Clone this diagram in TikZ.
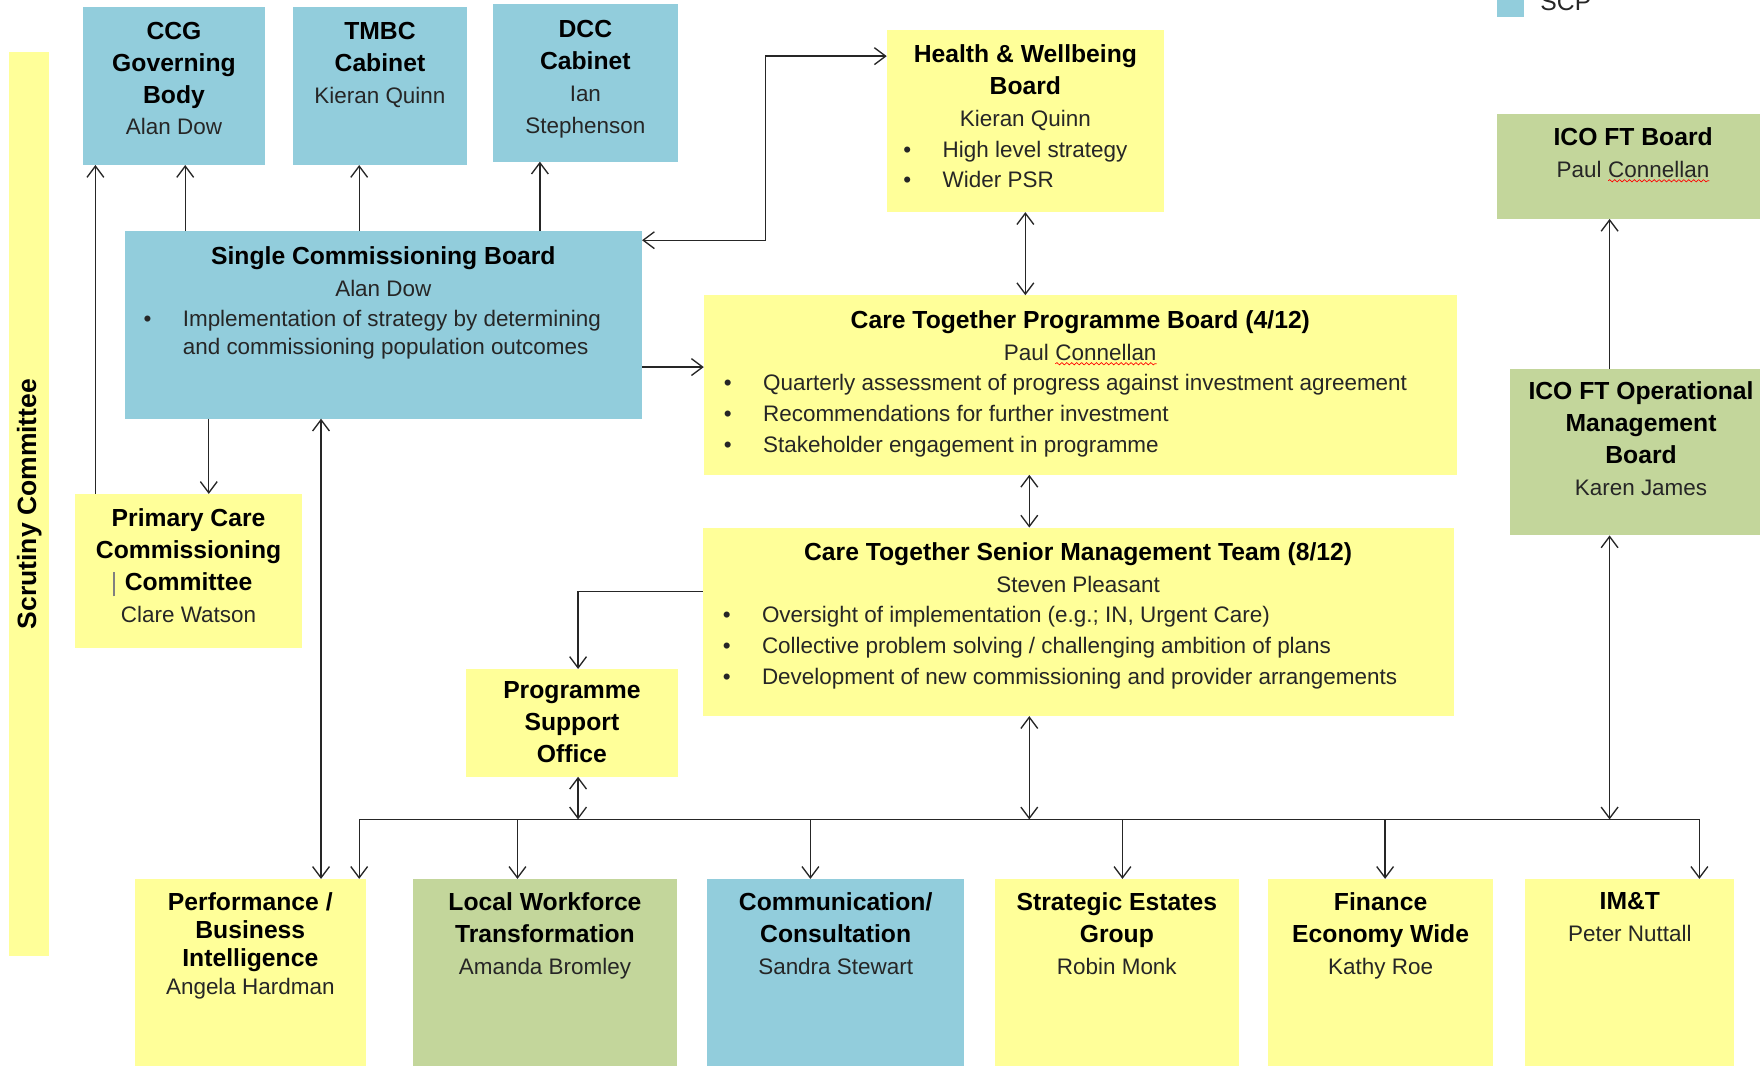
\documentclass[tikz,border=0pt]{standalone}
\usepackage{fontspec}
\setmainfont{Liberation Sans}
\usepackage{tikz}
\usetikzlibrary{arrows.meta}
\usetikzlibrary{positioning}
\usetikzlibrary{decorations.pathmorphing}
\definecolor{scpblue}{HTML}{92CDDC}
\definecolor{icogreen}{HTML}{C3D69B}
\definecolor{ctyellow}{HTML}{FFFF99}
\newcommand{\hd}[1]{{\fontsize{11}{14.25}\selectfont\bfseries\color{black}#1}}
\newcommand{\itm}[1]{\makebox[17.5pt][l]{\textbullet}#1}
\newcommand{\spell}[1]{\tikz[baseline=(sp.base)]{\node[inner sep=0pt, outer sep=0pt] (sp) {#1};
	\draw[red, line width=.3pt, decorate, decoration={snake, amplitude=.5pt, segment length=2.2pt}] ([yshift=-1.6pt]sp.base west) -- ([yshift=-1.6pt]sp.base east);}}
\tikzset{
	>={Straight Barb[length=5pt,width=7.5pt]},
	box/.style={rectangle, inner sep=0pt, outer sep=0pt, anchor=north west},
	wh/.style 2 args={minimum width=#1*.5pt, minimum height=#2*.5pt},
	scp/.style={box, fill=scpblue},
	ico/.style={box, fill=icogreen},
	ctp/.style={box, fill=ctyellow},
	txt/.style={inner sep=0pt, align=center, text=black!85, font=\fontsize{10}{14.25}\selectfont},
	blt/.style={inner sep=0pt, anchor=north west, align=left, text=black!85, font=\fontsize{10}{13.75}\selectfont},
	link/.style={draw, semithick, black!85},
}
\begin{document}
\begin{tikzpicture}[x=.5pt, y=-.5pt]
	\clip (0,0) rectangle (1568,949);
	% boxes
	\node[ctp, wh={36}{806}] (scr) at (8,46) {};
	\node[scp, wh={162}{141}] (ccg) at (74,6) {};
	\node[scp, wh={155}{141}] (tmbc) at (261,6) {};
	\node[scp, wh={165}{140}] (dcc) at (439,4) {};
	\node[ctp, wh={247}{162}] (hwb) at (790,27) {};
	\node[scp, wh={24}{25}] (key) at (1334,-10) {};
	\node[ico, wh={242}{93}] (icob) at (1334,102) {};
	\node[scp, wh={461}{167}] (scb) at (111,206) {};
	\node[ctp, wh={671}{160}] (ctpb) at (627,263) {};
	\node[ico, wh={234}{148}] (icoop) at (1345,329) {};
	\node[ctp, wh={202}{137}] (pcc) at (67,440) {};
	\node[ctp, wh={669}{168}] (smt) at (626,470) {};
	\node[ctp, wh={189}{96}] (pso) at (415,596) {};
	\node[ctp, wh={206}{180}] (perf) at (120,783) {};
	\node[ico, wh={235}{180}] (lwt) at (368,783) {};
	\node[scp, wh={229}{180}] (comm) at (630,783) {};
	\node[ctp, wh={218}{180}] (seg) at (886,783) {};
	\node[ctp, wh={200}{180}] (fin) at (1130,783) {};
	\node[ctp, wh={186}{180}] (imt) at (1359,783) {};

	% connectors
	\coordinate (bus) at (0,730);
	\foreach \b/\dx in {ccg/5pt, tmbc/-9.25pt, dcc/-20.25pt}
		\draw[link, ->] ([xshift=\dx]\b.south |- scb.north) -- ([xshift=\dx]\b.south);
	\draw[link, ->] ([xshift=9pt]pcc.north west) -- ([xshift=9pt]pcc.north west |- ccg.south);
	\draw[link, ->] ([xshift=9pt]pcc.north |- scb.south) -- ([xshift=9pt]pcc.north);
	\draw[link, <->] ([yshift=-4pt]scb.north east) -- ++(110,0) |- ([yshift=-11.5pt]hwb.north west);
	\draw[link, ->] ([yshift=-32pt]ctpb.north west -| scb.east) -- ([yshift=-32pt]ctpb.north west);
	\draw[link, <->] (hwb.south) -- (hwb.south |- ctpb.north);
	\draw[link, <->] ([xshift=-22.75pt]ctpb.south) -- ([xshift=-22.75pt]ctpb.south |- smt.north);
	\draw[link, ->] ([yshift=-28.5pt]smt.north west) -| ([xshift=2.75pt]pso.north);
	\draw[link, <->] ([xshift=2.75pt]pso.south) -- ([xshift=2.75pt]pso.south |- bus);
	\draw[link, <->] ([xshift=-21.75pt]smt.south) -- ([xshift=-21.75pt]smt.south |- bus);
	\draw[link, <->] ([xshift=-3pt]perf.north east) -- ([xshift=-3pt]perf.north east |- bus)
		-- ([xshift=-15.5pt]imt.north east |- bus) -- ([xshift=-15.5pt]imt.north east);
	\foreach \b/\dx in {lwt/-12.25pt, comm/-11.25pt, seg/2.5pt, fin/2pt}
		\draw[link, ->] ([xshift=\dx]\b.north |- bus) -- ([xshift=\dx]\b.north);
	\draw[link, <->] ([xshift=31.5pt]perf.north |- scb.south) -- ([xshift=31.5pt]perf.north);
	\draw[link, <->] ([xshift=-14pt]icoop.south) -- ([xshift=-14pt]icoop.south |- bus);
	\draw[link, ->] ([xshift=-14pt]icoop.north) -- ([xshift=-14pt]icoop.north |- icob.south);

	% texts
	\node[rotate=90, inner sep=0pt, font=\fontsize{11.8}{14}\selectfont\bfseries] (scr-t) at (scr.center) {Scrutiny Committee};
	\node[txt, below=6.5pt of ccg.north] (ccg-t) {\hd{CCG}\\\hd{Governing}\\\hd{Body}\\Alan Dow};
	\node[txt, below=6.5pt of tmbc.north] (tmbc-t) {\hd{TMBC}\\\hd{Cabinet}\\Kieran Quinn};
	\node[txt, below=7pt of dcc.north] (dcc-t) {\hd{DCC}\\\hd{Cabinet}\\Ian\\Stephenson};
	\node[txt, below=6pt of hwb.north] (hwb-t) {\hd{Health \& Wellbeing}\\\hd{Board}\\Kieran Quinn};
	\node[blt] (hwb-b) at ([xshift=7.25pt,yshift=-49pt]hwb.north west) {\itm{High level strategy}\\\itm{Wider PSR}};
	\node[anchor=base west, inner sep=0pt, text=black!85, font=\fontsize{11}{13}\selectfont] (key-t) at ([xshift=7pt,yshift=3pt]key.south east) {SCP};
	\node[txt, below=5.5pt of icob.north] (icob-t) {\hd{ICO FT Board}\\Paul \spell{Connellan}};
	\node[txt, below=6.5pt of scb.north] (scb-t) {\hd{Single Commissioning Board}\\Alan Dow};
	\node[blt] (scb-b) at ([xshift=8.25pt,yshift=-35pt]scb.north west) {\itm{Implementation of strategy by determining}\\[-1.5pt]\hspace*{17.5pt}and commissioning population outcomes};
	\node[txt, below=6.5pt of ctpb.north] (ctpb-t) {\hd{Care Together Programme Board (4/12)}\\Paul \spell{Connellan}};
	\node[blt] (ctpb-b) at ([xshift=8.75pt,yshift=-35pt]ctpb.north west) {\itm{Quarterly assessment of progress against investment agreement}\\\itm{Recommendations for further investment}\\\itm{Stakeholder engagement in programme}};
	\node[txt, below=5.5pt of icoop.north] (icoop-t) {\hd{ICO FT Operational}\\\hd{Management}\\\hd{Board}\\Karen James};
	\node[txt, below=6.5pt of pcc.north] (pcc-t) {\hd{Primary Care}\\\hd{Commissioning}\\\llap{\textcolor{gray}{\rule[-2.5pt]{.6pt}{11pt}}\hspace{4.5pt}}\hd{Committee}\\Clare Watson};
	\node[txt, below=6.5pt of smt.north] (smt-t) {\hd{Care Together Senior Management Team (8/12)}\\Steven Pleasant};
	\node[blt] (smt-b) at ([xshift=8.75pt,yshift=-35pt]smt.north west) {\itm{Oversight of implementation (e.g.; IN, Urgent Care)}\\\itm{Collective problem solving / challenging ambition of plans}\\\itm{Development of new commissioning and provider arrangements}};
	\node[txt, below=5.5pt of pso.north] (pso-t) {\hd{Programme}\\\hd{Support}\\\hd{Office}};
	\node[txt, font=\fontsize{10}{12.5}\selectfont, below=6pt of perf.north] (perf-t) {\hd{Performance /}\\\hd{Business}\\\hd{Intelligence}\\Angela Hardman};
	\node[txt, below=6pt of lwt.north] (lwt-t) {\hd{Local Workforce}\\\hd{Transformation}\\Amanda Bromley};
	\node[txt, below=6pt of comm.north] (comm-t) {\hd{Communication/}\\\hd{Consultation}\\Sandra Stewart};
	\node[txt, below=6pt of seg.north] (seg-t) {\hd{Strategic Estates}\\\hd{Group}\\Robin Monk};
	\node[txt, below=6pt of fin.north] (fin-t) {\hd{Finance}\\\hd{Economy Wide}\\Kathy Roe};
	\node[txt, below=6pt of imt.north] (imt-t) {\hd{IM\&T}\\Peter Nuttall};
\end{tikzpicture}
\end{document}
